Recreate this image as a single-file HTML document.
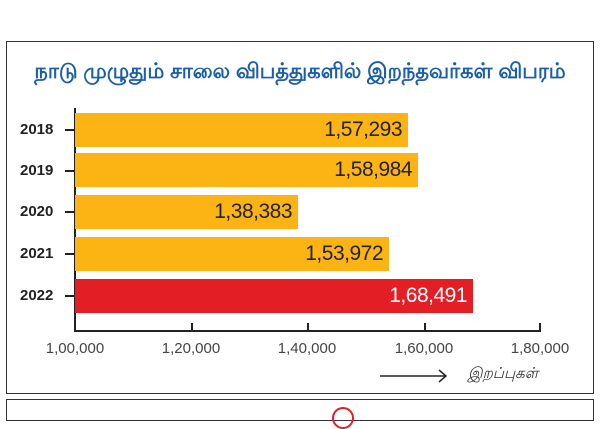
<!DOCTYPE html>
<html><head><meta charset="utf-8"><style>
html,body{margin:0;padding:0;background:#fff;}
body{width:600px;height:413px;position:relative;overflow:hidden;font-family:"Liberation Sans",sans-serif;}
.box{position:absolute;border:1.5px solid #333;}
.t{position:absolute;white-space:nowrap;}
.bar{position:absolute;left:75px;height:34px;background:#fcb414;}
.val{position:absolute;right:6px;top:5px;font-size:21px;color:#222;letter-spacing:-0.5px;}
.yr{position:absolute;left:20px;font-size:15px;font-weight:bold;color:#222;}
.yt{position:absolute;left:65px;width:10px;height:1.5px;background:#222;}
.xl{position:absolute;top:340px;font-size:15px;color:#444;width:90px;text-align:center;}
.xt{position:absolute;top:323px;width:1.5px;height:8px;background:#222;}
</style></head><body>
<div class="box" style="left:6px;top:41px;width:586px;height:351px;"></div>
<div class="box" style="left:6px;top:399px;width:586px;height:20px;"></div>
<div style="position:absolute;left:332px;top:407px;width:18px;height:18px;border-radius:50%;border:2px solid #e31e24;"></div>
<div class="t" style="left:0;width:600px;text-align:center;top:60px;font-size:21px;font-weight:bold;color:#1a5ea8;">நாடு முழுதும் சாலை விபத்துகளில் இறந்தவர்கள் விபரம்</div>
<div style="position:absolute;left:74px;top:108px;width:1.5px;height:224px;background:#222;"></div>
<div style="position:absolute;left:74px;top:330px;width:467px;height:1.5px;background:#222;"></div>

<div class="bar" style="top:113px;width:333px;"><span class="val">1,57,293</span></div>
<div class="bar" style="top:153px;width:343px;"><span class="val">1,58,984</span></div>
<div class="bar" style="top:195px;width:223px;"><span class="val">1,38,383</span></div>
<div class="bar" style="top:237px;width:314px;"><span class="val">1,53,972</span></div>
<div class="bar" style="top:279px;width:398px;background:#e31e24;"><span class="val" style="color:#fff;">1,68,491</span></div>

<div class="yr" style="top:121px;">2018</div><div class="yt" style="top:129px;"></div>
<div class="yr" style="top:162px;">2019</div><div class="yt" style="top:170px;"></div>
<div class="yr" style="top:203px;">2020</div><div class="yt" style="top:211px;"></div>
<div class="yr" style="top:245px;">2021</div><div class="yt" style="top:253px;"></div>
<div class="yr" style="top:287px;">2022</div><div class="yt" style="top:295px;"></div>

<div class="xt" style="left:191px;"></div><div class="xt" style="left:307px;"></div><div class="xt" style="left:424px;"></div><div class="xt" style="left:539px;"></div>
<div class="xl" style="left:30px;">1,00,000</div>
<div class="xl" style="left:146px;">1,20,000</div>
<div class="xl" style="left:262px;">1,40,000</div>
<div class="xl" style="left:379px;">1,60,000</div>
<div class="xl" style="left:495px;">1,80,000</div>

<svg style="position:absolute;left:378px;top:368px;" width="72" height="16"><line x1="2" y1="8" x2="68" y2="8" stroke="#222" stroke-width="1.5"/><polyline points="61,2 68,8 61,14" fill="none" stroke="#222" stroke-width="1.5"/></svg>
<div class="t" style="left:468px;top:365px;font-size:15px;font-style:italic;color:#333;">இறப்புகள்</div>
</body></html>
